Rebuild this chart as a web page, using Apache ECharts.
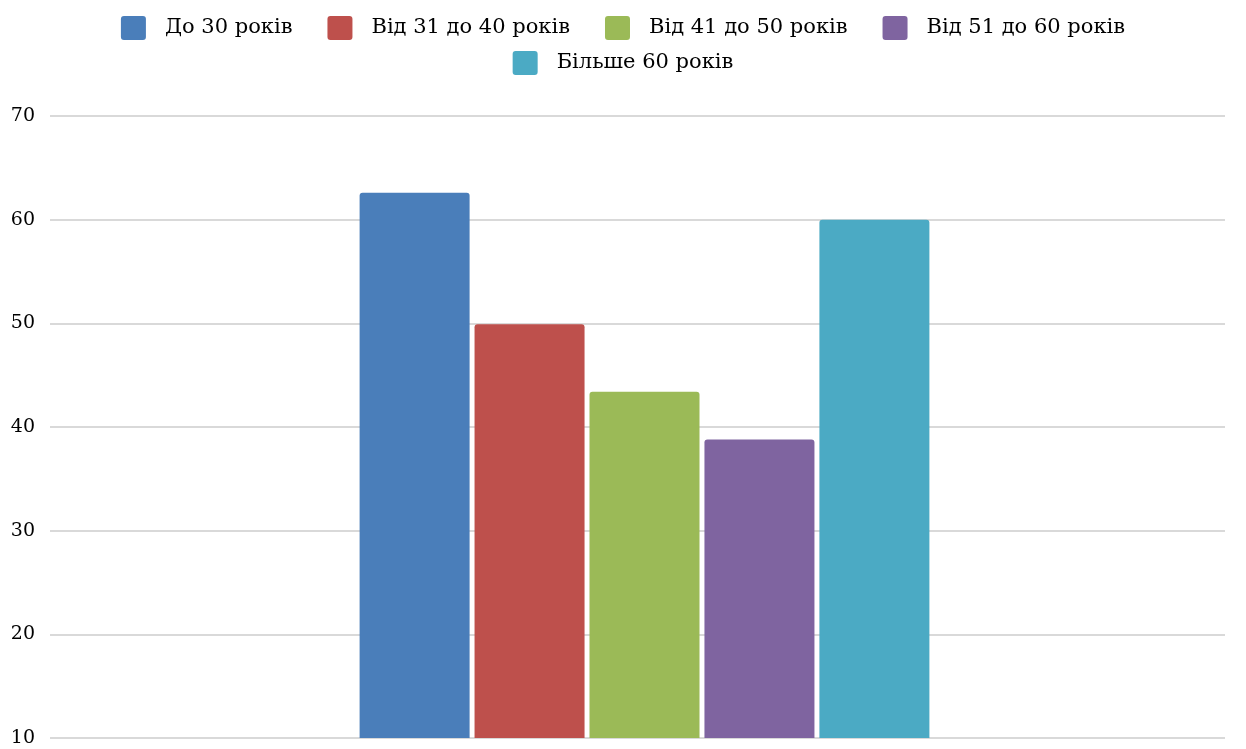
<!DOCTYPE html>
<html>
<head>
<meta charset="utf-8">
<script src="https://cdn.jsdelivr.net/npm/echarts@6/dist/echarts.min.js"></script>
<style>
  html, body { margin: 0; padding: 0; background: #ffffff; }
  #chart { width: 1246px; height: 749px; }
</style>
</head>
<body>
<div id="chart"></div>
<script>
// Age groups and their values
const categories = ['Вік'];
const seriesNames = ['До 30 років', 'Від 31 до 40 років', 'Від 41 до 50 років', 'Від 51 до 60 років', 'Більше 60 років'];
const seriesValues = [62.6, 49.9, 43.4, 38.8, 60.0];
const seriesColors = ['#4A7EBA', '#BE504C', '#9BBA57', '#7F64A0', '#4BAAC4'];
const yTicks = { min: 10, max: 70, interval: 10 };

const FONT = 'DejaVu Serif, Liberation Serif, serif';
// square swatch with slightly rounded corners
const SWATCH = 'path://M3,0 H22 Q25,0 25,3 V21 Q25,24 22,24 H3 Q0,24 0,21 V3 Q0,0 3,0 Z';

const chart = echarts.init(document.getElementById('chart'), null, { renderer: 'canvas' });

const series = seriesNames.map((name, i) => ({
  name: name,
  type: 'bar',
  xAxisIndex: 1,
  yAxisIndex: 1,
  data: [seriesValues[i]],
  barWidth: 110,
  barGap: '4.5%',
  itemStyle: { color: seriesColors[i], borderRadius: [3, 3, 0, 0] }
}));

const legendCommon = {
  left: 'center',
  itemWidth: 25,
  itemHeight: 24,
  itemGap: 35,
  icon: SWATCH,
  padding: [5, 17, 5, 5],
  textStyle: {
    fontFamily: FONT,
    fontSize: 21,
    color: '#000000',
    padding: [0, 0, 0, 14]
  }
};

chart.setOption({
  animation: false,
  backgroundColor: '#ffffff',
  legend: [
    Object.assign({}, legendCommon, { data: seriesNames.slice(0, 4), top: 11 }),
    Object.assign({}, legendCommon, { data: seriesNames.slice(4), top: 46 })
  ],
  grid: [
    // value scale with gridlines
    { left: 50, right: 21, top: 116, bottom: 11, containLabel: false },
    // bar group
    { left: 64, right: 21, top: 116, bottom: 11, containLabel: false }
  ],
  xAxis: [
    { gridIndex: 0, type: 'category', data: categories, show: false },
    { gridIndex: 1, type: 'category', data: categories, show: false }
  ],
  yAxis: [
    {
      gridIndex: 0,
      type: 'value',
      min: yTicks.min,
      max: yTicks.max,
      interval: yTicks.interval,
      axisLine: { show: false },
      axisTick: { show: false },
      axisLabel: {
        margin: 15,
        fontFamily: FONT,
        fontSize: 19,
        color: '#000000'
      },
      splitLine: { lineStyle: { color: '#cccccc', width: 1.5 } }
    },
    {
      gridIndex: 1,
      type: 'value',
      min: yTicks.min,
      max: yTicks.max,
      interval: yTicks.interval,
      show: false,
      splitLine: { show: false }
    }
  ],
  series: series
});
</script>
</body>
</html>
